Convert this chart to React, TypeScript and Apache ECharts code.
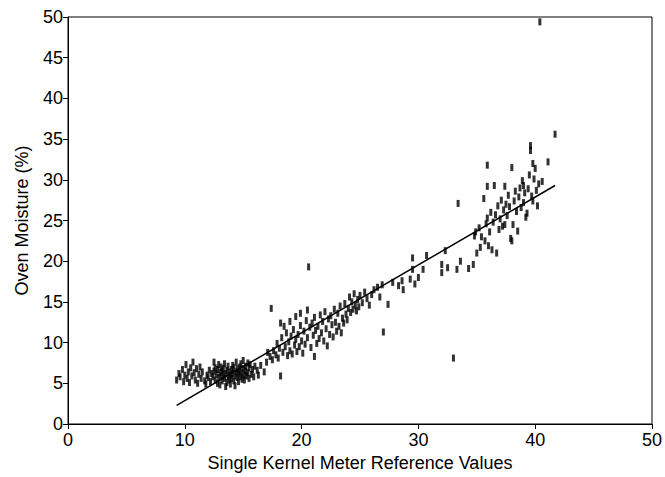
import React, { useEffect, useRef } from "react";
import * as echarts from "echarts";

const xTicks = [0, 10, 20, 30, 40, 50];
const yTicks = [0, 5, 10, 15, 20, 25, 30, 35, 40, 45, 50];

const pointsLow: number[][] = [
  [9.3, 5.4], [9.5, 6.2], [9.6, 5.8], [9.8, 6.7], [9.9, 5.2], [10.0, 6.0], [10.1, 7.3], [10.2, 5.6],
  [10.3, 6.4], [10.4, 5.1], [10.5, 6.9], [10.6, 5.9], [10.7, 7.6], [10.8, 6.3], [10.9, 5.4], [11.0, 6.8],
  [11.1, 5.0], [11.2, 6.1], [11.3, 7.0], [11.4, 5.6], [11.5, 6.4], [11.7, 5.3], [11.8, 4.9], [11.9, 6.0],
  [12.0, 5.7], [12.1, 6.6], [12.2, 5.2], [12.3, 6.2],
];

const pointsDense: number[][] = [
  [12.4, 5.8], [12.5, 6.5], [12.5, 7.6], [12.6, 5.4], [12.6, 6.9], [12.7, 6.1], [12.8, 5.0], [12.8, 6.7],
  [12.9, 7.3], [12.9, 5.7], [13.0, 6.3], [13.0, 4.8], [13.1, 5.9], [13.1, 7.0], [13.2, 6.5], [13.2, 5.3],
  [13.3, 6.0], [13.3, 6.8], [13.4, 5.6], [13.4, 7.4], [13.5, 6.2], [13.5, 4.6], [13.6, 5.1], [13.6, 6.6],
  [13.7, 5.8], [13.7, 7.1], [13.8, 6.4], [13.8, 5.4], [13.9, 6.0], [13.9, 4.9], [14.0, 6.7], [14.0, 5.6],
  [14.1, 7.2], [14.1, 6.2], [14.2, 5.3], [14.2, 6.9], [14.3, 5.9], [14.3, 4.7], [14.4, 6.4], [14.4, 7.6],
  [14.5, 5.7], [14.5, 6.8], [14.6, 6.1], [14.6, 5.2], [14.7, 7.0], [14.7, 6.5], [14.8, 5.8], [14.8, 7.4],
  [14.9, 6.3], [14.9, 5.5], [15.0, 6.8], [15.0, 7.8], [15.1, 6.0], [15.1, 5.4], [15.2, 7.1], [15.2, 6.5],
  [15.3, 5.9], [15.4, 7.5], [15.4, 6.3], [15.5, 5.6], [15.5, 6.9], [15.6, 7.3], [15.7, 6.1], [15.8, 6.7],
  [15.9, 5.8], [16.0, 7.1],
];

const pointsMid: number[][] = [
  [16.2, 6.6], [16.3, 6.0], [16.5, 7.2], [16.8, 6.4], [17.0, 7.6], [17.1, 8.8], [17.3, 8.3], [17.4, 14.2],
  [17.5, 7.9], [17.6, 9.0], [17.8, 8.5], [17.9, 9.9], [18.0, 8.1], [18.1, 9.3], [18.2, 5.9], [18.2, 12.4],
  [18.3, 10.6], [18.4, 8.8], [18.5, 12.0],
  [18.6, 9.5], [18.7, 11.2], [18.8, 8.4], [18.9, 10.1], [19.0, 12.6], [19.0, 9.0], [19.1, 10.8], [19.2, 8.6],
  [19.3, 11.6], [19.4, 9.7], [19.5, 13.2], [19.5, 10.4], [19.6, 8.9], [19.7, 11.0], [19.8, 9.5], [19.9, 12.1],
  [19.9, 13.6], [20.0, 10.2], [20.1, 8.7], [20.2, 11.4], [20.3, 9.8], [20.4, 12.7], [20.5, 10.6], [20.5, 14.0],
  [20.6, 19.3], [20.7, 11.9], [20.8, 9.4], [20.9, 12.4], [21.0, 10.9], [21.1, 8.3], [21.1, 13.1], [21.2, 11.5],
  [21.3, 9.9], [21.4, 12.0], [21.5, 10.5], [21.6, 13.4], [21.7, 11.2], [21.8, 12.6], [21.9, 10.2], [22.0, 13.8],
  [22.1, 11.7], [22.2, 9.6], [22.3, 12.9], [22.4, 11.0], [22.5, 13.3], [22.6, 12.2], [22.7, 10.7], [22.8, 14.1],
  [22.9, 12.5], [23.0, 11.4], [23.1, 13.6], [23.2, 12.0], [23.3, 14.5], [23.4, 11.2], [23.5, 13.0], [23.6, 12.4],
  [23.7, 14.8], [23.8, 13.5], [23.9, 12.8], [24.0, 14.2], [24.1, 15.6], [24.2, 13.7], [24.3, 15.0], [24.4, 14.1],
  [24.5, 16.0], [24.6, 14.6], [24.7, 13.9], [24.8, 15.3], [24.9, 14.4], [25.0, 15.8],
];

const pointsUpper: number[][] = [
  [25.2, 14.9], [25.4, 16.2], [25.6, 15.4], [25.8, 14.6], [26.0, 15.9], [26.2, 16.5], [26.5, 16.8], [26.7, 15.6],
  [26.9, 17.1], [27.0, 11.3], [27.4, 14.7], [27.8, 17.4], [28.3, 17.0], [28.6, 17.6], [28.7, 16.5], [29.3, 17.8],
  [29.5, 20.4], [29.5, 19.0], [29.7, 17.2], [30.0, 18.0], [30.4, 19.0], [30.7, 20.7],
  [32.0, 19.6], [32.0, 18.6], [32.3, 21.3], [32.5, 19.2], [33.0, 8.1], [33.3, 19.0], [33.4, 27.1], [33.6, 20.0],
  [34.3, 19.1], [34.7, 19.6], [34.8, 23.1], [34.9, 23.6], [35.0, 21.0],
];

const pointsHigh: number[][] = [
  [35.2, 24.1], [35.3, 21.7], [35.4, 23.0], [35.6, 27.7], [35.7, 22.5], [35.8, 24.6], [35.9, 25.3], [35.9, 29.2],
  [35.9, 31.8], [36.0, 21.9], [36.1, 23.6], [36.2, 26.0], [36.3, 21.4], [36.4, 24.8], [36.5, 29.3], [36.6, 25.7],
  [36.7, 21.0], [36.8, 26.8], [36.9, 23.9], [37.0, 25.2], [37.1, 27.5], [37.2, 24.3], [37.3, 26.3], [37.4, 29.2],
  [37.4, 24.5], [37.5, 27.0], [37.6, 25.6], [37.7, 28.1], [37.8, 26.7], [37.9, 22.8], [38.0, 31.5], [38.0, 22.5],
  [38.1, 24.5], [38.2, 27.4], [38.3, 28.6], [38.4, 26.1], [38.5, 23.7], [38.6, 27.9], [38.7, 29.0], [38.8, 26.6],
  [38.9, 29.9], [39.0, 29.3], [39.0, 27.2], [39.1, 28.4], [39.2, 25.4], [39.3, 25.9], [39.4, 28.9], [39.5, 30.6],
  [39.6, 33.6], [39.6, 34.2], [39.7, 28.0], [39.8, 32.0], [39.8, 27.4], [39.9, 30.1], [40.0, 31.4], [40.1, 28.7],
  [40.2, 26.8], [40.3, 29.5], [40.4, 49.4], [40.6, 29.8], [41.1, 32.2], [41.7, 35.6],
];

const fitX = [9.3, 41.7];
const fitY = [2.3, 29.3];

const allPoints = [...pointsLow, ...pointsDense, ...pointsMid, ...pointsUpper, ...pointsHigh];

export default function App() {
  const ref = useRef<HTMLDivElement>(null);
  useEffect(() => {
    if (!ref.current) return;
    const chart = echarts.init(ref.current, undefined, { renderer: "svg" });
    const font = "Liberation Sans, Arial, Helvetica, sans-serif";
    chart.setOption({
      animation: false,
      backgroundColor: "#fff",
      grid: {
        left: 68,
        right: 13,
        top: 17,
        bottom: 49,
        show: true,
        borderColor: "#000",
        borderWidth: 1,
        backgroundColor: "transparent",
      },
      xAxis: {
        type: "value",
        min: xTicks[0],
        max: xTicks[xTicks.length - 1],
        interval: 10,
        name: "Single Kernel Meter Reference Values",
        nameLocation: "middle",
        nameGap: 30,
        nameTextStyle: { color: "#000", fontSize: 18, fontFamily: font },
        axisLine: { lineStyle: { color: "#000", width: 1 } },
        axisTick: { show: true, length: 5, lineStyle: { color: "#000" } },
        axisLabel: { color: "#000", fontSize: 18, fontFamily: font, margin: 7 },
        splitLine: { show: false },
      },
      yAxis: {
        type: "value",
        min: yTicks[0],
        max: yTicks[yTicks.length - 1],
        interval: 5,
        name: "Oven Moisture (%)",
        nameLocation: "middle",
        nameGap: 37,
        nameTextStyle: { color: "#000", fontSize: 18, fontFamily: font },
        axisLine: { lineStyle: { color: "#000", width: 1 } },
        axisTick: { show: true, length: 5, lineStyle: { color: "#000" } },
        axisLabel: { color: "#000", fontSize: 18, fontFamily: font, margin: 5 },
        splitLine: { show: false },
      },
      series: [
        {
          type: "scatter",
          data: allPoints,
          symbol: "rect",
          symbolSize: [3, 7],
          itemStyle: { color: "#000" },
        },
        {
          type: "line",
          data: fitX.map((x, i) => [x, fitY[i]]),
          symbol: "none",
          lineStyle: { color: "#000", width: 1.5 },
        },
      ],
    });
    return () => chart.dispose();
  }, []);
  return <div ref={ref} style={{ width: 665, height: 477, position: "absolute", left: 0, top: 0 }} />;
}
